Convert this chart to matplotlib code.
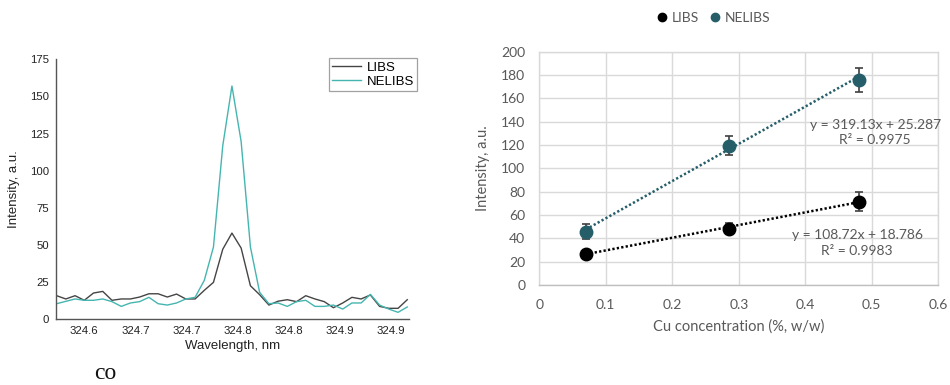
import matplotlib
matplotlib.use("Agg")
import matplotlib.pyplot as plt
from matplotlib.lines import Line2D

# ---------------- spectrum data (Cu I line region) ----------------
wavelength = [
    324.5729, 324.5819, 324.5910, 324.6000, 324.6090, 324.6181, 324.6271,
    324.6362, 324.6452, 324.6542, 324.6633, 324.6723, 324.6813, 324.6904,
    324.6994, 324.7085, 324.7175, 324.7265, 324.7356, 324.7446, 324.7536,
    324.7627, 324.7717, 324.7808, 324.7898, 324.7988, 324.8079, 324.8169,
    324.8259, 324.8350, 324.8440, 324.8531, 324.8621, 324.8711, 324.8802,
    324.8892, 324.8982, 324.9073, 324.9163,
]
libs_spectrum = [
    15.7, 13.5, 15.7, 12.6, 17.5, 18.6, 12.6, 13.5, 13.5, 14.8, 17.0, 17.0,
    14.8, 16.8, 13.5, 13.5, 19.3, 24.7, 47.0, 57.9, 47.8, 22.4, 16.4, 9.4,
    12.0, 13.0, 11.7, 15.7, 13.5, 11.7, 7.6, 10.8, 14.6, 13.5, 16.2, 8.5,
    7.2, 7.2, 13.0,
]
nelibs_spectrum = [
    10.3, 11.9, 13.5, 12.6, 12.6, 13.5, 11.7, 8.5, 10.8, 11.7, 14.6, 10.3,
    9.4, 10.8, 13.5, 14.6, 26.0, 48.5, 116.7, 157.0, 119.6, 48.5, 18.0, 10.3,
    10.8, 8.5, 11.7, 12.6, 8.5, 8.5, 9.4, 6.7, 10.8, 10.8, 16.6, 9.4,
    6.7, 4.5, 8.1,
]
wl_ticks = [324.60, 324.65, 324.70, 324.75, 324.80, 324.85, 324.90]
wl_tick_labels = ["324.6", "324.7", "324.7", "324.8", "324.8", "324.9", "324.9"]
spec_yticks = [0, 25, 50, 75, 100, 125, 150, 175]

# ---------------- calibration data ----------------
cu_conc = [0.07, 0.285, 0.48]
libs_int = [26.6, 48.3, 71.4]
libs_err = [3.0, 5.0, 8.0]
nelibs_int = [45.7, 119.4, 175.7]
nelibs_err = [6.5, 8.0, 10.0]
libs_fit = (108.72, 18.786, 0.9983)
nelibs_fit = (319.13, 25.287, 0.9975)

W, H = 950, 385
fig = plt.figure(figsize=(W / 100, H / 100), dpi=100)

def px_rect(l, t, r, b):
    return [l / W, 1 - b / H, (r - l) / W, (b - t) / H]

# ================= left: spectra =================
sans = ["Liberation Sans", "DejaVu Sans"]
ax1 = fig.add_axes(px_rect(56, 59.3, 409, 319))
ax1.plot(wavelength, libs_spectrum, color="#454545", lw=1.0, label="LIBS")
ax1.plot(wavelength, nelibs_spectrum, color="#45b5b0", lw=1.0, label="NELIBS")
ax1.set_xlim(324.5723, 324.918)
ax1.set_ylim(0, 175)
ax1.set_xticks(wl_ticks)
ax1.set_xticklabels(wl_tick_labels, family=sans, fontsize=8.2, color="#222222")
ax1.set_yticks(spec_yticks)
ax1.set_yticklabels([str(v) for v in spec_yticks], family=sans, fontsize=8.2,
                    color="#222222")
ax1.tick_params(length=0, pad=5)
for s in ("top", "right"):
    ax1.spines[s].set_visible(False)
for s in ("left", "bottom"):
    ax1.spines[s].set_color("#555555")
    ax1.spines[s].set_linewidth(1.0)
ax1.set_xlabel("Wavelength, nm", family=sans, fontsize=9.5, color="#222222",
               labelpad=3)
ax1.set_ylabel("Intensity, a.u.", family=sans, fontsize=9.5, color="#222222",
               labelpad=7)
leg1 = ax1.legend(loc="upper right", bbox_to_anchor=(1.023, 1.005),
                  borderaxespad=0, fancybox=False, frameon=True,
                  prop={"family": sans, "size": 9.5}, handlelength=2.2,
                  borderpad=0.25, labelspacing=0.15, handletextpad=0.4)
leg1.get_frame().set_edgecolor("#8a8a8a")
leg1.get_frame().set_linewidth(0.9)

fig.text(105 / W, 6 / H, "co", family=["Liberation Serif", "DejaVu Serif"],
         fontsize=17, ha="center", va="baseline", color="#111111")

# ================= right: calibration =================
lato = ["Lato", "DejaVu Sans"]
grey = "#595959"
teal = "#255e69"
ax2 = fig.add_axes(px_rect(539.3, 51.7, 938.3, 285))
ax2.set_xlim(0, 0.6)
ax2.set_ylim(0, 200)
xt = [0, 0.1, 0.2, 0.3, 0.4, 0.5, 0.6]
yt = list(range(0, 201, 20))
ax2.set_xticks(xt)
ax2.set_xticklabels(["0", "0.1", "0.2", "0.3", "0.4", "0.5", "0.6"],
                    family=lato, fontsize=10, color=grey)
ax2.set_yticks(yt)
ax2.set_yticklabels([str(v) for v in yt], family=lato, fontsize=10, color=grey)
ax2.tick_params(length=0, pad=10)
ax2.grid(True, color="#d9d9d9", lw=1.0)
ax2.set_axisbelow(True)
for s in ("top", "right", "left"):
    ax2.spines[s].set_color("#d9d9d9")
ax2.spines["bottom"].set_color("#bfbfbf")
for s in ax2.spines.values():
    s.set_linewidth(1.0)

# trend lines from the fitted equations
for (m, b, _), col in ((libs_fit, "#000000"), (nelibs_fit, teal)):
    xs = [cu_conc[0], cu_conc[-1]]
    ax2.plot(xs, [m * x + b for x in xs], color=col, lw=1.8,
             linestyle=(0, (0.9, 0.9)), zorder=2)

ax2.errorbar(cu_conc, libs_int, yerr=libs_err, fmt="o", color="#000000",
             ms=9, ecolor="#404040", elinewidth=1.2, capsize=3.2,
             capthick=1.2, zorder=3)
ax2.errorbar(cu_conc, nelibs_int, yerr=nelibs_err, fmt="o", color=teal,
             ms=9, ecolor="#404040", elinewidth=1.2, capsize=3.2,
             capthick=1.2, zorder=3)

ax2.text(0.505, 130.7,
         f"y = {nelibs_fit[0]:.2f}x + {nelibs_fit[1]:.3f}\nR² = {nelibs_fit[2]:.4f}",
         family=lato, fontsize=10, color=grey, ha="center", va="center",
         linespacing=1.35)
ax2.text(0.478, 36.0,
         f"y = {libs_fit[0]:.2f}x + {libs_fit[1]:.3f}\nR² = {libs_fit[2]:.4f}",
         family=lato, fontsize=10, color=grey, ha="center", va="center",
         linespacing=1.35)

ax2.set_xlabel("Cu concentration (%, w/w)", family=lato, fontsize=10.5,
               color=grey, labelpad=6)
ax2.set_ylabel("Intensity, a.u.", family=lato, fontsize=10.5, color=grey,
               labelpad=8)

handles = [
    Line2D([], [], marker="o", linestyle="none", color="#000000", ms=6),
    Line2D([], [], marker="o", linestyle="none", color=teal, ms=6),
]
fig.legend(handles, ["LIBS", "NELIBS"], loc="center",
           bbox_to_anchor=(714 / W, 1 - 18.3 / H), ncol=2, frameon=False,
           prop={"family": lato, "size": 10}, labelcolor=grey,
           handlelength=0.6, handletextpad=0.35, columnspacing=0.9)

fig.savefig("out.png", dpi=100)
